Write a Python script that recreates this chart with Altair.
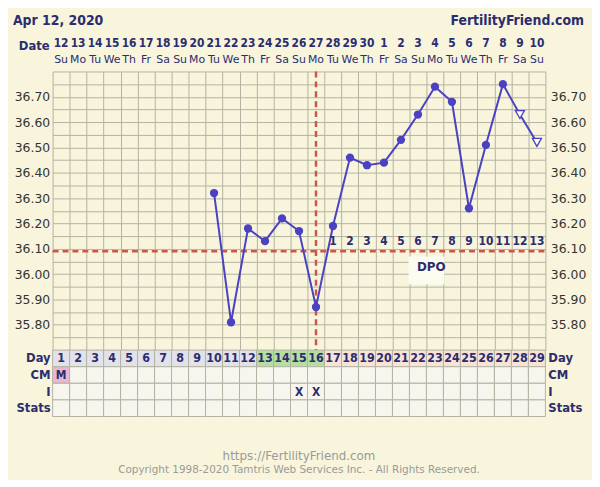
import altair as alt
import pandas as pd

# ---------------- data ----------------
title_date = "Apr 12, 2020"
site_name = "FertilityFriend.com"
cycle_days = list(range(1, 30))
date_nums = ["12", "13", "14", "15", "16", "17", "18", "19", "20", "21", "22", "23", "24", "25",
             "26", "27", "28", "29", "30", "1", "2", "3", "4", "5", "6", "7", "8", "9", "10"]
weekdays = ["Su", "Mo", "Tu", "We", "Th", "Fr", "Sa", "Su", "Mo", "Tu", "We", "Th", "Fr", "Sa",
            "Su", "Mo", "Tu", "We", "Th", "Fr", "Sa", "Su", "Mo", "Tu", "We", "Th", "Fr", "Sa", "Su"]
temp_days = [10, 11, 12, 13, 14, 15, 16, 17, 18, 19, 20, 21, 22, 23, 24, 25, 26, 27, 28, 29]
temps = [36.32, 35.81, 36.18, 36.13, 36.22, 36.17, 35.87, 36.19, 36.46, 36.43,
         36.44, 36.53, 36.63, 36.74, 36.68, 36.26, 36.51, 36.75, 36.63, 36.52]
temp_open = [False] * 18 + [True, True]
dpo_days = [17, 18, 19, 20, 21, 22, 23, 24, 25, 26, 27, 28, 29]
dpo_nums = ["1", "2", "3", "4", "5", "6", "7", "8", "9", "10", "11", "12", "13"]
coverline = 36.09
ovulation_day = 16
phase = ["pre"] * 12 + ["fertile"] * 4 + ["post"] * 13
cm_days = [1]
cm_codes = ["M"]
intercourse_days = [15, 16]
y_labels = [35.80, 35.90, 36.00, 36.10, 36.20, 36.30, 36.40, 36.50, 36.60, 36.70]
y_grid = [35.70, 35.75, 35.80, 35.85, 35.90, 35.95, 36.00, 36.05, 36.10, 36.15, 36.20, 36.25,
          36.30, 36.35, 36.40, 36.45, 36.50, 36.55, 36.60, 36.65, 36.70, 36.75, 36.80]
x_grid = [i + 0.5 for i in range(30)]
row_names = ["Day", "CM", "I", "Stats"]
footer_lines = ["https://FertilityFriend.com",
                "Copyright 1998-2020 Tamtris Web Services Inc. - All Rights Reserved."]
footer_sizes = [12, 10.5]

# ---------------- style / layout ----------------
BG = "#f8f5dc"
GRID = "#b3b2a2"
NAVY = "#2b2d6e"
LINE = "#4a42c2"
RED = "#c9574a"
GREY = "#9a9a9a"
PHASE_COL = {"pre": "#e2e2ea", "fertile": "#b5df9e", "post": "#f8e3d6"}
CELL = "#f6f6ef"
CM_COL = "#e9b8cf"
FONT = "DejaVu Sans"
CFONT = "DejaVu Sans Condensed"

W, H = 497, 281
Y_TOP, Y_BOT = 36.80, 35.70
PX = H / (Y_TOP - Y_BOT)          # px per degree
TOP_PAGE = 70.0


def ty(page_y):
    return Y_TOP - (page_y - TOP_PAGE) / PX


ROW = 16.75 / PX

xs = alt.Scale(domain=[0.5, 29.5], nice=False, zero=False)
ys = alt.Scale(domain=[Y_BOT, Y_TOP], nice=False, zero=False)


def X(f="x"):
    return alt.X(f"{f}:Q", scale=xs, axis=None)


def Y(f="y"):
    return alt.Y(f"{f}:Q", scale=ys, axis=None)


def XD(v):
    return alt.XDatum(v, scale=xs, axis=None)


def YD(v):
    return alt.YDatum(v, scale=ys, axis=None)


temp_df = pd.DataFrame({"x": temp_days, "y": temps, "open": temp_open})

# grid + left labels
grid = alt.Chart(temp_df).mark_point(opacity=0).encode(
    x=alt.X("x:Q", scale=xs, axis=alt.Axis(values=x_grid, grid=True, labels=False, ticks=False,
                                            domain=False, title=None, gridColor=GRID, gridOpacity=1)),
    y=alt.Y("y:Q", scale=ys, axis=alt.Axis(
        values=y_grid, grid=True, ticks=False, domain=False, title=None, gridColor=GRID, gridOpacity=1,
        labelExpr="(abs(datum.value*10 - round(datum.value*10)) < 0.01 && datum.value > 35.75 && datum.value < 36.75) ? format(datum.value, '.2f') : ''",
        labelFont=FONT, labelFontSize=12.5, labelColor="#333333", labelPadding=3)),
)

right_axis = alt.Chart(temp_df).mark_point(opacity=0).encode(
    x=X(),
    y=alt.Y("y:Q", scale=ys, axis=alt.Axis(
        orient="right", values=y_labels, format=".2f", grid=False, ticks=False, domain=False,
        title=None, labelFont=FONT, labelFontSize=12.5, labelColor="#333333", labelPadding=5)),
)

# DPO box
dpo_box = alt.Chart(pd.DataFrame({"x": [21.45], "x2": [23.55], "y": [36.07], "y2": [35.96]})).mark_rect(
    color="#fcfbf0").encode(x=X(), x2="x2:Q", y=Y(), y2="y2:Q")
dpo_box_text = alt.Chart(pd.DataFrame({"x": [22.78], "y": [36.027], "t": ["DPO"]})).mark_text(
    font=FONT, fontSize=12, fontWeight="bold", color=NAVY).encode(x=X(), y=Y(), text="t:N")

cover = alt.Chart(pd.DataFrame({"y": [coverline]})).mark_rule(
    color=RED, strokeWidth=2.5, strokeDash=[6, 4]).encode(
    y=Y(), x=XD(0.5), x2=alt.X2Datum(29.5))
ovu = alt.Chart(pd.DataFrame({"x": [ovulation_day]})).mark_rule(
    color=RED, strokeWidth=2.5, strokeDash=[6, 4]).encode(
    x=X(), y=YD(Y_TOP), y2=alt.Y2Datum(Y_BOT))

line = alt.Chart(temp_df).mark_line(color=LINE, strokeWidth=2).encode(x=X(), y=Y())
dots = alt.Chart(temp_df).transform_filter("!datum.open").mark_circle(
    color=LINE, size=70, opacity=1).encode(x=X(), y=Y())
tris = alt.Chart(temp_df).transform_filter("datum.open").mark_point(
    shape="triangle-down", size=85, filled=True, fill="#fbfaf0", stroke=LINE, strokeWidth=1.3,
    opacity=1).encode(x=X(), y=Y())

dpo_df = pd.DataFrame({"x": dpo_days, "t": dpo_nums})
dpo_text = alt.Chart(dpo_df).mark_text(font=CFONT, fontSize=12, fontWeight="bold", color=NAVY).encode(
    x=X(), y=YD(ty(241)), text="t:N")

# header
head_df = pd.DataFrame({"x": cycle_days, "d": date_nums, "w": weekdays})
date_text = alt.Chart(head_df).mark_text(font=CFONT, fontSize=12, fontWeight="bold", color=NAVY).encode(
    x=X(), y=YD(ty(41)), text="d:N")
wd_text = alt.Chart(head_df).mark_text(font=FONT, fontSize=11, color=NAVY).encode(
    x=X(), y=YD(ty(58)), text="w:N")
date_lbl = alt.Chart(pd.DataFrame({"x": [0.5], "t": ["Date"]})).mark_text(
    font=CFONT, fontSize=13, fontWeight="bold", color=NAVY, align="right", dx=-3).encode(
    x=X(), y=YD(ty(44)), text="t:N")
title_l = alt.Chart(pd.DataFrame({"x": [0.5], "t": [title_date]})).mark_text(
    font=CFONT, fontSize=14, fontWeight="bold", color=NAVY, align="left", dx=-40).encode(
    x=X(), y=YD(ty(19)), text="t:N")
title_r = alt.Chart(pd.DataFrame({"x": [29.5], "t": [site_name]})).mark_text(
    font=CFONT, fontSize=14, fontWeight="bold", color=NAVY, align="right", dx=39).encode(
    x=X(), y=YD(ty(19)), text="t:N")

# table
cells = []
for i, d in enumerate(cycle_days):
    for r in range(4):
        top = Y_BOT - r * ROW
        if r == 0:
            col = PHASE_COL[phase[i]]
        elif r == 1 and d in cm_days:
            col = CM_COL
        else:
            col = CELL
        cells.append({"x": d - 0.5, "x2": d + 0.5, "y": top, "y2": top - ROW, "c": col})
cells_df = pd.DataFrame(cells)
table = alt.Chart(cells_df).mark_rect(stroke=GRID, strokeWidth=1).encode(
    x=X(), x2="x2:Q", y=Y(), y2="y2:Q", fill=alt.Fill("c:N", scale=None))

day_text = alt.Chart(pd.DataFrame({"x": cycle_days, "t": [str(d) for d in cycle_days]})).mark_text(
    font=CFONT, fontSize=12.5, fontWeight="bold", color=NAVY).encode(
    x=X(), y=YD(Y_BOT - 0.5 * ROW), text="t:N")
cm_text = alt.Chart(pd.DataFrame({"x": cm_days, "t": cm_codes})).mark_text(
    font=CFONT, fontSize=12, fontWeight="bold", color=NAVY).encode(
    x=X(), y=YD(Y_BOT - 1.5 * ROW), text="t:N")
i_text = alt.Chart(pd.DataFrame({"x": intercourse_days, "t": ["X"] * len(intercourse_days)})).mark_text(
    font=CFONT, fontSize=12, fontWeight="bold", color=NAVY).encode(
    x=X(), y=YD(Y_BOT - 2.5 * ROW), text="t:N")

rl_df = pd.DataFrame({"t": row_names, "y": [Y_BOT - (k + 0.5) * ROW for k in range(4)]})
row_l = alt.Chart(rl_df).mark_text(font=CFONT, fontSize=13, fontWeight="bold", color=NAVY,
                                   align="right", dx=-2).encode(
    x=XD(0.5), y=Y(), text="t:N")
row_r = alt.Chart(rl_df).mark_text(font=CFONT, fontSize=13, fontWeight="bold", color=NAVY,
                                   align="left", dx=3).encode(
    x=XD(29.5), y=Y(), text="t:N")

foot_df = pd.DataFrame({"t": footer_lines, "y": [ty(458), ty(472)], "s": footer_sizes})
footer = alt.Chart(foot_df).mark_text(font=FONT, color=GREY).encode(
    x=XD(15), y=Y(), text="t:N", size=alt.Size("s:Q", scale=None, legend=None))

chart = alt.layer(
    grid, right_axis, dpo_box, cover, ovu, line, dots, tris, dpo_text, dpo_box_text,
    date_text, wd_text, date_lbl, title_l, title_r,
    table, day_text, cm_text, i_text, row_l, row_r, footer,
).resolve_axis(x="independent", y="independent").properties(
    width=W, height=H,
    padding={"left": 45, "top": 62, "right": 47, "bottom": 129},
    autosize=alt.AutoSizeParams(type="none"),
).configure(background=BG).configure_view(stroke=None)

chart.save("out.html", embed_options={"renderer": "svg", "actions": False})
